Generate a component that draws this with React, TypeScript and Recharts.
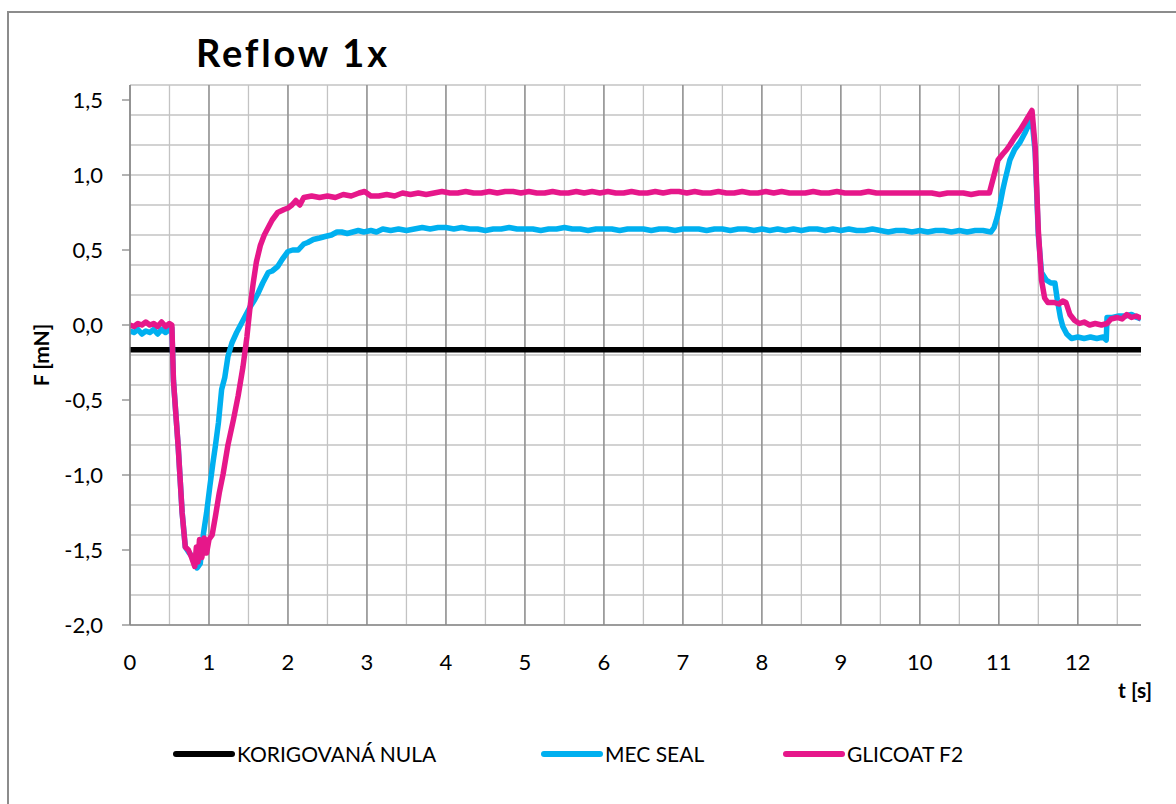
import React from 'react';
import { LineChart, Line, XAxis, YAxis, CartesianGrid } from 'recharts';

// t [s], F [mN]
const korigovanaNula: [number, number][] = [[0, -0.165], [12.8, -0.165]];

const mecSeal: [number, number][] = [
  [0, -0.04], [0.05, -0.05], [0.1, -0.03], [0.15, -0.06], [0.2, -0.04], [0.25, -0.05], [0.3, -0.03],
  [0.35, -0.06], [0.4, -0.03], [0.45, -0.05], [0.5, -0.03], [0.53, -0.02], [0.55, -0.37], [0.61, -0.81],
  [0.66, -1.25], [0.7, -1.48], [0.75, -1.52], [0.8, -1.55], [0.85, -1.62], [0.89, -1.59], [0.93, -1.39],
  [0.97, -1.25], [1.01, -1.08], [1.05, -0.92], [1.08, -0.81], [1.12, -0.65], [1.16, -0.43], [1.2, -0.35],
  [1.24, -0.21], [1.29, -0.12], [1.35, -0.05], [1.43, 0.03], [1.52, 0.12], [1.58, 0.17], [1.62, 0.21],
  [1.68, 0.28], [1.75, 0.35], [1.8, 0.36], [1.87, 0.39], [1.93, 0.44], [2.0, 0.49], [2.06, 0.5],
  [2.13, 0.5], [2.2, 0.54], [2.25, 0.55], [2.32, 0.57], [2.4, 0.58], [2.47, 0.59], [2.55, 0.6],
  [2.62, 0.62], [2.68, 0.62], [2.75, 0.61], [2.82, 0.62], [2.89, 0.63], [2.96, 0.62], [3.05, 0.63],
  [3.12, 0.62], [3.2, 0.64], [3.3, 0.63], [3.4, 0.64], [3.5, 0.63], [3.6, 0.64], [3.7, 0.65],
  [3.8, 0.64], [3.9, 0.65], [4.0, 0.65], [4.1, 0.64], [4.2, 0.65], [4.3, 0.64], [4.4, 0.64],
  [4.5, 0.63], [4.6, 0.64], [4.7, 0.64], [4.8, 0.65], [4.9, 0.64], [5.0, 0.64], [5.1, 0.64],
  [5.2, 0.63], [5.3, 0.64], [5.4, 0.64], [5.5, 0.65], [5.6, 0.64], [5.7, 0.64], [5.8, 0.63],
  [5.9, 0.64], [6.0, 0.64], [6.1, 0.64], [6.2, 0.63], [6.3, 0.64], [6.4, 0.64], [6.5, 0.64],
  [6.6, 0.63], [6.7, 0.64], [6.8, 0.64], [6.9, 0.63], [7.0, 0.64], [7.1, 0.64], [7.2, 0.64],
  [7.3, 0.63], [7.4, 0.64], [7.5, 0.64], [7.6, 0.63], [7.7, 0.64], [7.8, 0.64], [7.9, 0.63],
  [8.0, 0.64], [8.1, 0.63], [8.2, 0.64], [8.3, 0.63], [8.4, 0.64], [8.5, 0.63], [8.6, 0.64],
  [8.7, 0.64], [8.8, 0.63], [8.9, 0.64], [9.0, 0.63], [9.1, 0.64], [9.2, 0.63], [9.3, 0.63],
  [9.4, 0.64], [9.5, 0.63], [9.6, 0.62], [9.7, 0.63], [9.8, 0.63], [9.9, 0.62], [10.0, 0.63],
  [10.1, 0.62], [10.2, 0.63], [10.3, 0.63], [10.4, 0.62], [10.5, 0.63], [10.6, 0.62], [10.7, 0.63],
  [10.8, 0.63], [10.9, 0.62], [10.94, 0.65], [10.98, 0.72], [11.01, 0.79], [11.05, 0.9], [11.08, 0.97],
  [11.14, 1.1], [11.2, 1.17], [11.27, 1.22], [11.33, 1.28], [11.39, 1.35], [11.42, 1.37], [11.46, 1.15],
  [11.5, 0.6], [11.54, 0.35], [11.6, 0.3], [11.66, 0.28], [11.71, 0.28], [11.74, 0.17], [11.78, 0.05],
  [11.81, -0.01], [11.86, -0.06], [11.92, -0.09], [12.0, -0.08], [12.08, -0.09], [12.16, -0.08],
  [12.24, -0.09], [12.32, -0.08], [12.36, -0.1], [12.37, 0.05], [12.44, 0.05], [12.52, 0.06],
  [12.6, 0.06], [12.68, 0.07], [12.75, 0.05], [12.8, 0.04],
];

const glicoatF2: [number, number][] = [
  [0, 0.0], [0.05, -0.01], [0.1, 0.01], [0.15, 0.0], [0.2, 0.02], [0.25, 0.0], [0.3, 0.01],
  [0.35, -0.01], [0.4, 0.02], [0.45, -0.01], [0.5, 0.01], [0.53, 0.0], [0.55, -0.37], [0.61, -0.81],
  [0.66, -1.25], [0.7, -1.48], [0.74, -1.5], [0.78, -1.55], [0.82, -1.61], [0.84, -1.48], [0.86, -1.58],
  [0.88, -1.43], [0.91, -1.55], [0.94, -1.42], [0.97, -1.52], [1.0, -1.43], [1.04, -1.4], [1.08, -1.28],
  [1.13, -1.12], [1.18, -0.99], [1.24, -0.8], [1.31, -0.63], [1.37, -0.47], [1.43, -0.28], [1.48, -0.08],
  [1.52, 0.12], [1.56, 0.28], [1.6, 0.42], [1.65, 0.53], [1.7, 0.6], [1.75, 0.65], [1.8, 0.7],
  [1.87, 0.75], [1.95, 0.77], [2.0, 0.78], [2.05, 0.8], [2.1, 0.83], [2.15, 0.8], [2.2, 0.85],
  [2.3, 0.86], [2.4, 0.85], [2.5, 0.86], [2.6, 0.85], [2.7, 0.87], [2.8, 0.86], [2.9, 0.88],
  [2.97, 0.89], [3.05, 0.86], [3.15, 0.86], [3.25, 0.87], [3.35, 0.86], [3.45, 0.88], [3.55, 0.87],
  [3.65, 0.88], [3.75, 0.87], [3.85, 0.88], [3.95, 0.89], [4.05, 0.88], [4.15, 0.88], [4.25, 0.89],
  [4.35, 0.88], [4.45, 0.88], [4.55, 0.89], [4.65, 0.88], [4.75, 0.89], [4.85, 0.89], [4.95, 0.88],
  [5.05, 0.89], [5.15, 0.88], [5.25, 0.88], [5.35, 0.89], [5.45, 0.88], [5.55, 0.88], [5.65, 0.89],
  [5.75, 0.88], [5.85, 0.89], [5.95, 0.88], [6.05, 0.89], [6.15, 0.88], [6.25, 0.88], [6.35, 0.89],
  [6.45, 0.88], [6.55, 0.88], [6.65, 0.89], [6.75, 0.88], [6.85, 0.89], [6.95, 0.89], [7.05, 0.88],
  [7.15, 0.89], [7.25, 0.88], [7.35, 0.88], [7.45, 0.89], [7.55, 0.88], [7.65, 0.88], [7.75, 0.89],
  [7.85, 0.88], [7.95, 0.88], [8.05, 0.89], [8.15, 0.88], [8.25, 0.89], [8.35, 0.88], [8.45, 0.88],
  [8.55, 0.88], [8.65, 0.89], [8.75, 0.88], [8.85, 0.88], [8.95, 0.89], [9.05, 0.88], [9.15, 0.88],
  [9.25, 0.88], [9.35, 0.89], [9.45, 0.88], [9.55, 0.88], [9.65, 0.88], [9.75, 0.88], [9.85, 0.88],
  [9.95, 0.88], [10.05, 0.88], [10.15, 0.88], [10.25, 0.87], [10.35, 0.88], [10.45, 0.88], [10.55, 0.88],
  [10.65, 0.87], [10.75, 0.88], [10.88, 0.88], [10.93, 0.98], [10.99, 1.1], [11.05, 1.14], [11.1, 1.17],
  [11.14, 1.2], [11.2, 1.25], [11.27, 1.3], [11.34, 1.36], [11.42, 1.43], [11.46, 1.19], [11.5, 0.63],
  [11.54, 0.3], [11.58, 0.18], [11.62, 0.15], [11.7, 0.15], [11.76, 0.14], [11.81, 0.16], [11.85, 0.15],
  [11.9, 0.07], [11.96, 0.03], [12.02, 0.01], [12.08, 0.02], [12.15, 0.0], [12.22, 0.01], [12.3, 0.0],
  [12.37, 0.01], [12.42, 0.04], [12.5, 0.05], [12.56, 0.04], [12.62, 0.07], [12.68, 0.05], [12.74, 0.06],
  [12.78, 0.05], [12.8, 0.04],
];

const xTicks = [0, 1, 2, 3, 4, 5, 6, 7, 8, 9, 10, 11, 12];
const yTicks = [-2, -1.5, -1, -0.5, 0, 0.5, 1, 1.5];

const minorY = Array.from({ length: 37 }, (_, i) => Math.round((-2 + i * 0.1) * 10) / 10);
const minorX = Array.from({ length: 26 }, (_, i) => i * 0.5);

const series = [
  { name: 'KORIGOVANÁ NULA', color: '#000000', width: 5.5, points: korigovanaNula },
  { name: 'MEC SEAL', color: '#00B0F0', width: 5.5, points: mecSeal },
  { name: 'GLICOAT F2', color: '#E6178A', width: 5.5, points: glicoatF2 },
];

const FONT = 'Lato, "DejaVu Sans", sans-serif';
const fmt = (v: number) => v.toFixed(1).replace('.', ',');

const App: React.FC = () => {
  return (
    <div style={{ position: 'relative', width: 1176, height: 804, overflow: 'hidden', background: '#fff', fontFamily: FONT }}>
      <style>{'body{margin:0;overflow:hidden}'}</style>
      <div style={{ position: 'absolute', left: 7, top: 11, width: 1200, height: 820, border: '2px solid #8c8c8c' }} />

      <LineChart width={1176} height={804} margin={{ top: 85, right: 35, bottom: 139, left: 0 }} style={{ position: 'absolute', left: 0, top: 0 }}>
        <CartesianGrid stroke="#c3c3c3" strokeWidth={1.3} horizontalValues={minorY} verticalValues={minorX} />
        <CartesianGrid stroke="#8a8a8a" strokeWidth={1.3} horizontal={false} verticalValues={xTicks} />
        <XAxis
          type="number"
          dataKey="t"
          domain={[0, 12.8]}
          ticks={xTicks}
          allowDataOverflow
          height={40}
          tickLine={false}
          tickSize={0}
          tickMargin={29}
          axisLine={{ stroke: '#8a8a8a', strokeWidth: 1.3 }}
          tick={{ fill: '#000', fontSize: 22, fontFamily: FONT }}
        />
        <YAxis
          type="number"
          dataKey="f"
          domain={[-2, 1.6]}
          ticks={yTicks}
          allowDataOverflow
          width={130}
          tickSize={8}
          tickMargin={19}
          tickFormatter={fmt}
          tickLine={{ stroke: '#8a8a8a', strokeWidth: 1.3 }}
          axisLine={{ stroke: '#8a8a8a', strokeWidth: 1.3 }}
          tick={{ fill: '#000', fontSize: 22, fontFamily: FONT }}
        />
        {series.map((s) => (
          <Line
            key={s.name}
            name={s.name}
            data={s.points.map(([t, f]) => ({ t, f }))}
            dataKey="f"
            type="linear"
            stroke={s.color}
            strokeWidth={s.width}
            strokeLinejoin="round"
            dot={false}
            activeDot={false}
            isAnimationActive={false}
          />
        ))}
      </LineChart>

      <div style={{ position: 'absolute', left: 196, top: 33, fontSize: 38, fontWeight: 700, lineHeight: 1, letterSpacing: 2.8, color: '#000' }}>Reflow 1x</div>
      <div
        style={{
          position: 'absolute', left: 40, top: 355, fontSize: 21, fontWeight: 700, lineHeight: 1, whiteSpace: 'nowrap',
          transform: 'translate(-50%, -50%) rotate(-90deg)',
        }}
      >
        F [mN]
      </div>
      <div style={{ position: 'absolute', left: 1118, top: 679, fontSize: 21, fontWeight: 700, lineHeight: 1 }}>t [s]</div>

      <div style={{ position: 'absolute', left: 173, top: 742, display: 'flex', fontSize: 21, lineHeight: '24px' }}>
        {series.map((s, i) => (
          <div key={s.name} style={{ display: 'flex', alignItems: 'center', width: i === 0 ? 368 : i === 1 ? 242 : 'auto' }}>
            <div style={{ width: 62, height: 6, borderRadius: 3, background: s.color, marginRight: 2 }} />
            <span>{s.name}</span>
          </div>
        ))}
      </div>
    </div>
  );
};

export default App;
